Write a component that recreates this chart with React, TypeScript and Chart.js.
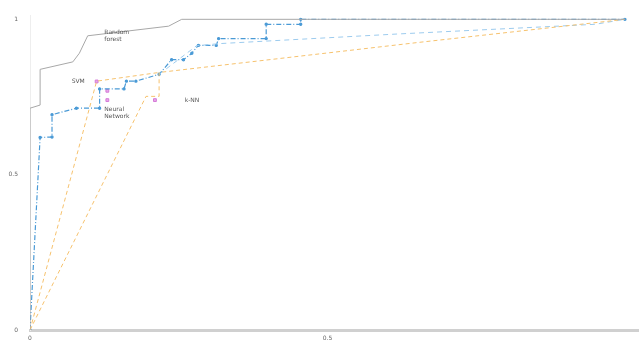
import React, { useEffect, useRef } from "react";
import { Chart, registerables } from "chart.js";
Chart.register(...registerables);

const forestX = [0, 0, 0.017, 0.017, 0.072, 0.083, 0.097, 0.233, 0.255, 1];
const forestY = [0, 0.714, 0.724, 0.839, 0.863, 0.891, 0.947, 0.978, 1, 1];

const netX = [0, 0.017, 0.037, 0.037, 0.078, 0.117, 0.117, 0.158, 0.162, 0.178, 0.217, 0.238, 0.258, 0.272, 0.283, 0.313, 0.317, 0.397, 0.397, 0.455, 0.455, 1];
const netY = [0, 0.62, 0.621, 0.693, 0.714, 0.714, 0.776, 0.776, 0.801, 0.801, 0.823, 0.87, 0.87, 0.891, 0.916, 0.916, 0.938, 0.938, 0.984, 0.984, 1, 1];

const netAltX = [0.217, 0.28, 0.32, 0.62, 0.95, 1];
const netAltY = [0.823, 0.915, 0.922, 0.953, 0.984, 1];

const svmX = [0, 0.112, 0.217];
const svmY = [0, 0.801, 0.829];

const knnX = [0, 0.195, 0.217, 0.217, 0.65, 1];
const knnY = [0, 0.752, 0.752, 0.829, 0.925, 1];

const markX = [0.112, 0.13, 0.13, 0.21];
const markY = [0.8, 0.77, 0.74, 0.74];

const labelText = [["SVM"], ["Random", "forest"], ["Neural", "Network"], ["k-NN"]];
const labelX = [0.07, 0.125, 0.125, 0.26];
const labelY = [0.8, 0.945, 0.70, 0.74];
const labelAlign = ["left", "left", "left", "left"];

const xTicks = [0, 0.5];
const yTicks = [0, 0.5, 1];

const pts = (xs: number[], ys: number[]) => xs.map((x, i) => ({ x, y: ys[i] }));
const fmt = (v: any) => String(Number(v));

const labelPlugin = {
  id: "rocLabels",
  afterDatasetsDraw(chart: any) {
    const { ctx, scales } = chart;
    ctx.save();
    ctx.font = "6px 'DejaVu Sans', sans-serif";
    ctx.fillStyle = "#555";
    ctx.textBaseline = "middle";
    labelText.forEach((lines, i) => {
      const px = scales.x.getPixelForValue(labelX[i]);
      const py = scales.y.getPixelForValue(labelY[i]);
      ctx.textAlign = labelAlign[i];
      lines.forEach((t, j) => ctx.fillText(t, px, py + (j - (lines.length - 1) / 2) * 7));
    });
    ctx.restore();
  },
};

export default function App() {
  const ref = useRef<HTMLCanvasElement>(null);
  useEffect(() => {
    document.body.style.margin = "0";
    const chart = new Chart(ref.current!, {
      type: "scatter",
      data: {
        datasets: [
          { data: pts(forestX, forestY), showLine: true, borderColor: "#a8a8a8", borderWidth: 1, pointRadius: 0 },
          { data: pts(knnX, knnY), showLine: true, borderColor: "#f6c26e", borderWidth: 1, borderDash: [4, 3], pointRadius: 0 },
          { data: pts(svmX, svmY), showLine: true, borderColor: "#f6c26e", borderWidth: 1, borderDash: [4, 3], pointRadius: 0 },
          { data: pts(netAltX, netAltY), showLine: true, borderColor: "#9ccbee", borderWidth: 1, borderDash: [5, 4], pointRadius: 0 },
          { data: pts(netX, netY), showLine: true, borderColor: "#4a9ad6", backgroundColor: "#4a9ad6", borderWidth: 1.2, borderDash: [5, 2, 1, 2], pointRadius: 1.1 },
          { data: pts(markX, markY), showLine: false, borderColor: "#d57ad8", backgroundColor: "#e7a8e8", pointStyle: "rect", pointRadius: 2, borderWidth: 1 },
        ],
      },
      options: {
        animation: false,
        responsive: false,
        layout: { padding: { top: 4, right: 0 } },
        plugins: { legend: { display: false }, tooltip: { enabled: false } },
        scales: {
          x: {
            type: "linear",
            min: 0,
            max: 1.0233,
            afterBuildTicks: (s: any) => { s.ticks = xTicks.map((v) => ({ value: v })); },
            afterFit: (s: any) => { s.height = 17; },
            grid: { display: false, drawTicks: false },
            border: { color: "#d0d0d0", width: 3 },
            ticks: { font: { size: 6, family: "DejaVu Sans" }, color: "#666", padding: 5, callback: fmt },
          },
          y: {
            type: "linear",
            min: 0,
            max: 1.012,
            afterBuildTicks: (s: any) => { s.ticks = yTicks.map((v) => ({ value: v })); },
            afterFit: (s: any) => { s.width = 30; },
            grid: { display: false, drawTicks: false },
            border: { color: "#eeeeee", width: 1 },
            ticks: { font: { size: 6, family: "DejaVu Sans" }, color: "#666", padding: 12, callback: fmt },
          },
        },
      },
      plugins: [labelPlugin],
    });
    return () => chart.destroy();
  }, []);
  return <canvas ref={ref} width={644} height={347} style={{ display: "block" }} />;
}
